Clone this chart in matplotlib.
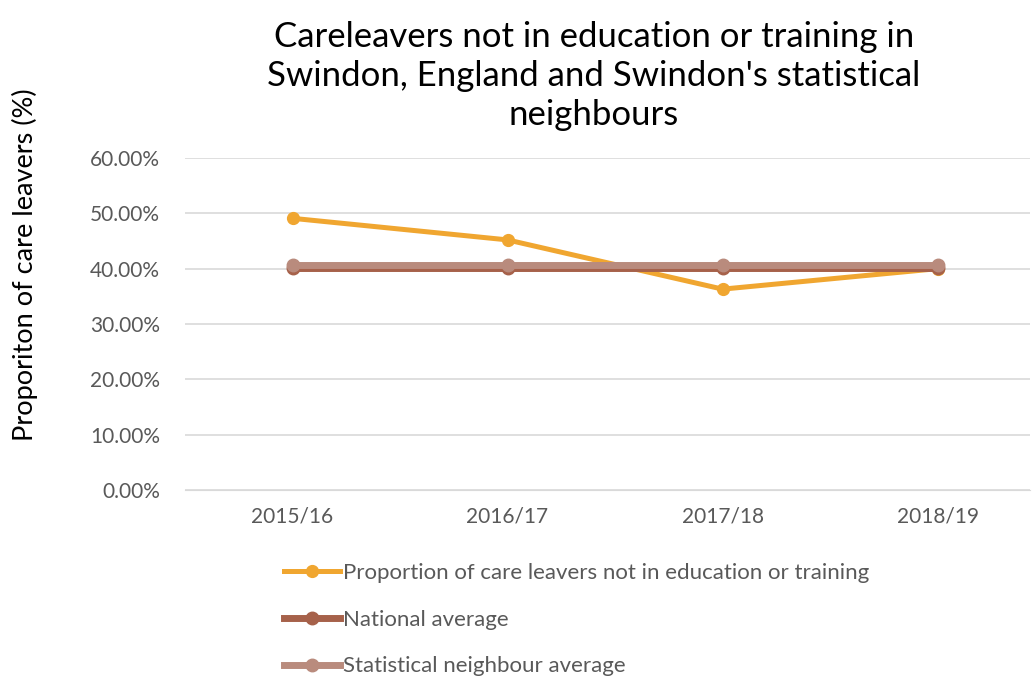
import numpy as np
import matplotlib.pyplot as plt
from matplotlib.ticker import PercentFormatter

plt.rcParams['font.family'] = ['Lato', 'DejaVu Sans']

years = ["2015/16", "2016/17", "2017/18", "2018/19"]
not_in_edu = [0.491, 0.452, 0.363, 0.400]
national_avg = [0.401, 0.401, 0.401, 0.401]
stat_neighbour_avg = [0.407, 0.407, 0.407, 0.407]

x = np.arange(len(years))

fig = plt.figure(figsize=(10.32, 6.77), dpi=100)
ax = fig.add_axes([185 / 1032, 187 / 677, 845 / 1032, 332 / 677])

ax.plot(x, not_in_edu, color="#F0A630", lw=3.6, marker="o", ms=8.5,
        label="Proportion of care leavers not in education or training", zorder=3)
ax.plot(x, national_avg, color="#A6614A", lw=5, marker="o", ms=9,
        label="National average", zorder=4)
ax.plot(x, stat_neighbour_avg, color="#B98B7D", lw=5, marker="o", ms=9,
        label="Statistical neighbour average", zorder=5)

ax.set_xlim(-0.5, 3.43)
ax.set_ylim(0, 0.6)
ax.set_yticks(np.arange(0, 0.61, 0.1))
ax.yaxis.set_major_formatter(PercentFormatter(1.0, decimals=2))
ax.set_xticks(x)
ax.set_xticklabels(years)

ax.grid(axis="y", color="#D9D9D9", lw=1.2)
ax.set_axisbelow(True)
for s in ["top", "right", "left"]:
    ax.spines[s].set_visible(False)
ax.spines["bottom"].set_color("#D9D9D9")
ax.tick_params(length=0, labelsize=15, colors="#595959", pad=12)
ax.tick_params(axis="y", pad=18)

# y label placed in figure coords, centred on the text block
fig.text(25 / 1032, 1 - 265 / 677, "Proporiton of care leavers (%)",
         rotation=90, ha="center", va="center", fontsize=19.5)

fig.text(594 / 1032, 1 - 76 / 677,
         "Careleavers not in education or training in\nSwindon, England and Swindon's statistical\nneighbours",
         ha="center", va="center", fontsize=25, linespacing=1.27)

leg = ax.legend(loc="upper left", bbox_to_anchor=(284 / 1032, 1 - 563 / 677),
                bbox_transform=fig.transFigure, frameon=False, fontsize=16,
                handlelength=2.5, handletextpad=0.15, labelspacing=1.2,
                borderaxespad=0, borderpad=0)
for t in leg.get_texts():
    t.set_color("#595959")

fig.savefig("out.png", dpi=100)
